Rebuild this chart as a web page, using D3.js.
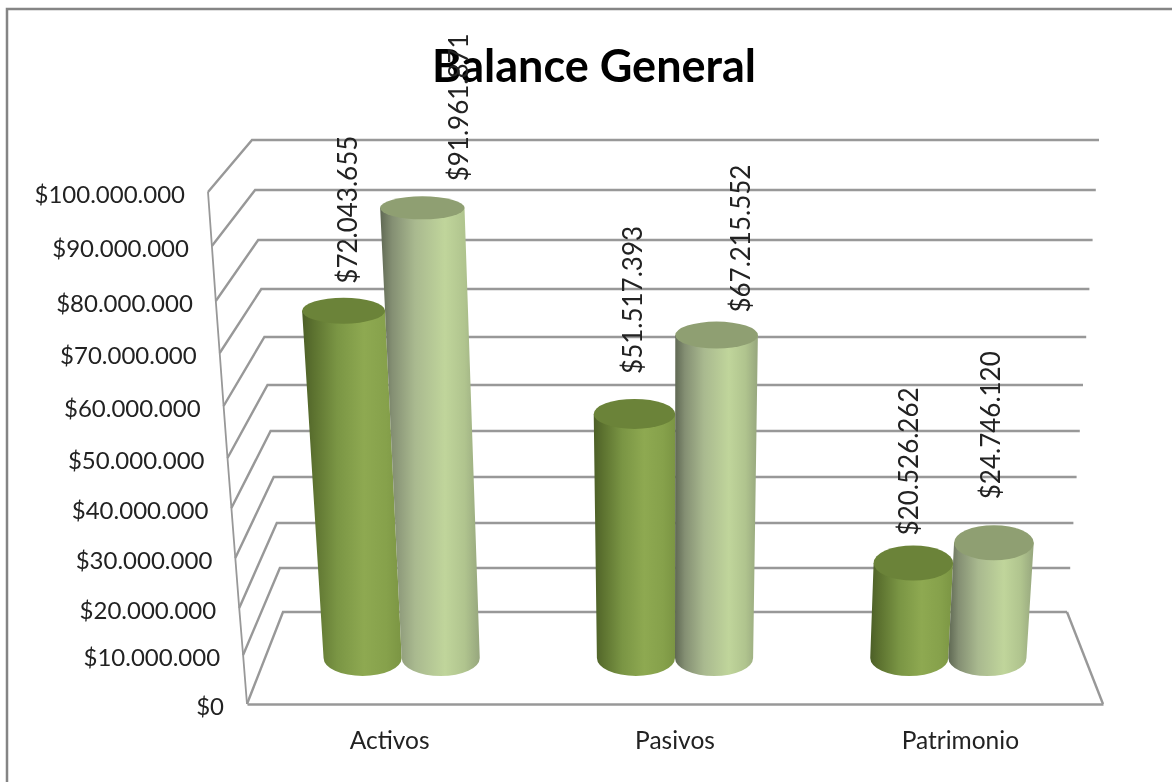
<!DOCTYPE html>
<html>
<head>
<meta charset="utf-8">
<title>Balance General</title>
<script src="https://cdn.jsdelivr.net/npm/d3@7"></script>
<style>
html, body { margin: 0; padding: 0; background: #fff; }
svg { display: block; filter: blur(0.5px); }
text { font-family: Lato, "Open Sans", sans-serif; fill: #222; }
</style>
</head>
<body>
<svg id="chart" width="1172" height="782"></svg>
<script>
const categories = ["Activos", "Pasivos", "Patrimonio"];
const seriesNames = ["anio1", "anio2"];
const serieOscura = [72043655, 51517393, 20526262];
const serieClara = [91961871, 67215552, 24746120];
const axisTicks = [0, 10000000, 20000000, 30000000, 40000000, 50000000, 60000000, 70000000, 80000000, 90000000, 100000000];

// where each tick lands on the front edge and on the back wall (perspective, not linear)
const frontY = [704, 655, 608, 558, 508, 458, 406, 353, 301, 246, 192];
const backY = [612, 568, 523, 477, 431, 385, 337, 289, 240, 190, 140];

// the data labels were moved by hand in the original chart
const labelDx = [[3, 36], [-2, 23], [-5, -4]];
const labelGap = [[14, 15], [25, 9], [10, 26]];

const svg = d3.select("#chart");
const defs = svg.append("defs");

const es = d3.formatLocale({decimal: ",", thousands: ".", grouping: [3], currency: ["$", ""]});
const money = es.format("$,.0f");

const yFront = d3.scaleLinear().domain(axisTicks).range(frontY);
const yBack = d3.scaleLinear().domain(axisTicks).range(backY);
const yMid = v => (yFront(v) + yBack(v)) / 2;

const xFrontEdge = d3.scaleLinear().domain([0, 100000000]).range([247, 208]);
const xBackLeft = d3.scaleLinear().domain([0, 100000000]).range([283, 252]);
const xBackRight = d3.scaleLinear().domain([0, 100000000]).range([1067, 1099]);

// bars stand half way between the front edge and the back wall
const xFront = d3.scaleBand().domain(categories).range([247, 1103]);
const xMid = d3.scaleBand().domain(categories).range([265, 1085]);
const xInner = d3.scaleBand().domain(seriesNames).range([0, xMid.bandwidth()]).paddingOuter(0.75).paddingInner(0);

const vanishX = 670;
const grow = d3.scaleLinear().domain([658, 209]).range([1, 1.08]);
const ryAt = d3.scaleLinear().domain([209, 312, 542, 658]).range([11.5, 13, 17.5, 18]);

function gradient(id, stops) {
    const g = defs.append("linearGradient").attr("id", id).attr("x1", 0).attr("x2", 1).attr("y1", 0).attr("y2", 0);
    stops.forEach(s => g.append("stop").attr("offset", s[0]).attr("stop-color", s[1]));
}
gradient("oscura", [[0, "#4c5f27"], [0.12, "#5d7330"], [0.35, "#7a9544"], [0.62, "#8ea951"], [0.85, "#86a14b"], [1, "#7b9543"]]);
gradient("clara", [[0, "#5f6853"], [0.12, "#848f73"], [0.35, "#a9b98f"], [0.65, "#c0d59b"], [0.85, "#b0c48e"], [1, "#96a67d"]]);

// frame, only top and left fall inside the picture
svg.append("path")
    .attr("d", "M7,790V9H1180")
    .attr("fill", "none")
    .attr("stroke", "#858585")
    .attr("stroke-width", 2.5);

const grid = svg.append("g").attr("fill", "none").attr("stroke", "#989898").attr("stroke-width", 2.4);

grid.selectAll("path.back")
    .data(axisTicks)
    .enter()
    .append("path")
    .attr("class", "back")
    .attr("d", d => d3.line()([[xFrontEdge(d), yFront(d)], [xBackLeft(d), yBack(d)], [xBackRight(d), yBack(d)]]));

grid.append("path")
    .attr("d", d3.line()(axisTicks.map(d => [xFrontEdge(d), yFront(d)])))
    .attr("stroke-width", 1.8);

grid.append("path")
    .attr("d", d3.line()([[xBackRight(0), yBack(0)], [xFront.range()[1], yFront(0)]]));

// value labels follow the slanted front edge
svg.append("g")
    .selectAll("text")
    .data(axisTicks)
    .enter()
    .append("text")
    .attr("x", d => xFrontEdge(d) - 23)
    .attr("y", d => yFront(d) + 1)
    .attr("text-anchor", "end")
    .attr("dominant-baseline", "central")
    .attr("font-size", 24)
    .text(d => money(d));

// category axis
const xAxis = svg.append("g")
    .attr("transform", "translate(0," + yFront(0) + ")")
    .call(d3.axisBottom(xFront).tickSize(0).tickPadding(28));
xAxis.select(".domain").attr("stroke", "#989898").attr("stroke-width", 2.4);
xAxis.selectAll("text").attr("font-size", 24.5).attr("fill", "#222").style("font-family", "Lato, sans-serif");

var bars = [];
categories.forEach(function (c, i) {
    bars.push({cat: c, i: i, s: 0, value: serieOscura[i]});
    bars.push({cat: c, i: i, s: 1, value: serieClara[i]});
});

bars.forEach(function (d) {
    d.xb = xMid(d.cat) + xInner(seriesNames[d.s]) + xInner.bandwidth() / 2;
    d.rb = xInner.bandwidth() / 2;
    d.yb = yMid(0);
    d.yt = yMid(d.value);
    d.xt = vanishX + (d.xb - vanishX) * grow(d.yt);
    d.rt = d.rb * grow(d.yt);
    d.ryb = ryAt(d.yb);
    d.ryt = ryAt(d.yt);
});

const cyl = svg.append("g")
    .selectAll("g")
    .data(bars)
    .enter()
    .append("g");

cyl.append("path")
    .attr("fill", d => d.s == 0 ? "url(#oscura)" : "url(#clara)")
    .attr("d", d => `M${d.xt - d.rt},${d.yt}L${d.xb - d.rb},${d.yb}A${d.rb},${d.ryb} 0 0 0 ${d.xb + d.rb},${d.yb}L${d.xt + d.rt},${d.yt}Z`);

cyl.append("ellipse")
    .attr("cx", d => d.xt)
    .attr("cy", d => d.yt)
    .attr("rx", d => d.rt)
    .attr("ry", d => d.ryt)
    .attr("fill", d => d.s == 0 ? "#6b8339" : "#8f9f72");

svg.append("text")
    .attr("x", 594)
    .attr("y", 82)
    .attr("text-anchor", "middle")
    .attr("font-size", 45)
    .attr("font-weight", 700)
    .style("fill", "#000")
    .text("Balance General");

svg.append("g")
    .selectAll("text")
    .data(bars)
    .enter()
    .append("text")
    .attr("transform", d => "translate(" + (d.xt + labelDx[d.i][d.s]) + "," + (d.yt - d.ryt - labelGap[d.i][d.s]) + ") rotate(-90)")
    .attr("dominant-baseline", "central")
    .attr("font-size", 26)
    .text(d => money(d.value));
</script>
</body>
</html>
